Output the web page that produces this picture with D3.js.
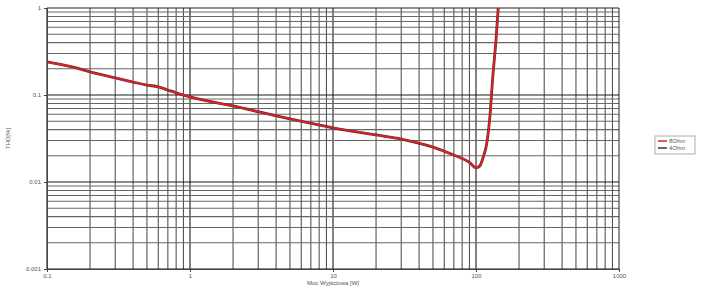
<!DOCTYPE html>
<html>
<head>
<meta charset="utf-8">
<script src="https://cdn.jsdelivr.net/npm/d3@7"></script>
<style>
  body { margin: 0; background: #fff; }
  text { font-family: "Liberation Sans", Arial, sans-serif; fill: #555; }
</style>
</head>
<body>
<div id="chart"></div>
<script>
// values
const power8 = [0.1, 0.15, 0.2, 0.3, 0.4, 0.5, 0.6, 0.7, 0.8, 1, 2, 5, 10, 20, 30, 50, 70, 90, 100, 106, 112, 119, 125, 131, 138, 143];
const thd8 = [0.24, 0.21, 0.184, 0.157, 0.141, 0.13, 0.124, 0.114, 0.106, 0.095, 0.0748, 0.053, 0.042, 0.0347, 0.0312, 0.0252, 0.0204, 0.0168, 0.0146, 0.0152, 0.019, 0.028, 0.056, 0.161, 0.43, 1.0];
const seriesNames = ["8Ohm", "4Ohm"];
const xTicks = [0.1, 1, 10, 100, 1000];
const yTicks = [1, 0.1, 0.01, 0.001];
const xTickLabels = ["0.1", "1", "10", "100", "1000"];
const yTickLabels = ["1", "0.1", "0.01", "0.001"];

const width = 705, height = 290;
const margin = {top: 8, right: 86, bottom: 21, left: 47};

const x = d3.scaleLog()
    .domain([0.1, 1000])
    .range([margin.left, width - margin.right]);
const y = d3.scaleLog()
    .domain([0.001, 1])
    .range([height - margin.bottom, margin.top]);

const svg = d3.select("#chart").append("svg")
    .attr("width", width)
    .attr("height", height)
    .attr("viewBox", [0, 0, width, height]);

// minor + major grid lines, one per 1..9 step of each decade
const minorX = [], minorY = [];
for (let e = -1; e < 3; e++) for (let m = 1; m < 10; m++) minorX.push(m * Math.pow(10, e));
for (let e = -3; e < 0; e++) for (let m = 1; m < 10; m++) minorY.push(m * Math.pow(10, e));

const grid = svg.append("g");
grid.selectAll(".vx")
    .data(minorX)
    .join("line")
      .attr("x1", d => x(d)).attr("x2", d => x(d))
      .attr("y1", y(1)).attr("y2", y(0.001))
      .attr("stroke", (d, i) => i % 9 == 0 ? "#1a1a1a" : "#555")
      .attr("stroke-width", 1.1);
grid.selectAll(".hy")
    .data(minorY)
    .join("line")
      .attr("x1", x(0.1)).attr("x2", x(1000))
      .attr("y1", d => y(d)).attr("y2", d => y(d))
      .attr("stroke", (d, i) => i % 9 == 0 ? "#1a1a1a" : "#666")
      .attr("stroke-width", 1.1);
// frame edges
grid.append("line")
    .attr("x1", x(1000)).attr("x2", x(1000))
    .attr("y1", y(1)).attr("y2", y(0.001))
    .attr("stroke", "#222");
grid.append("line")
    .attr("x1", x(0.1)).attr("x2", x(1000))
    .attr("y1", y(1)).attr("y2", y(1))
    .attr("stroke", "#222");

// axes
svg.append("g")
    .attr("transform", `translate(0,${y(0.001)})`)
    .call(d3.axisBottom(x).tickValues(xTicks).tickFormat((d, i) => xTickLabels[i]).tickSize(3))
    .call(g => g.select(".domain").attr("stroke", "#444"))
    .call(g => g.selectAll(".tick line").attr("stroke", "#444"))
    .call(g => g.selectAll(".tick text").attr("font-size", 6).attr("dy", "0.5em"));

svg.append("g")
    .attr("transform", `translate(${x(0.1)},0)`)
    .call(d3.axisLeft(y).tickValues(yTicks).tickFormat((d, i) => yTickLabels[i]).tickSize(3))
    .call(g => g.select(".domain").attr("stroke", "#444"))
    .call(g => g.selectAll(".tick line").attr("stroke", "#444"))
    .call(g => g.selectAll(".tick text").attr("font-size", 6).attr("x", -6));

svg.append("text")
    .attr("x", (x(0.1) + x(1000)) / 2)
    .attr("y", height - 5)
    .attr("text-anchor", "middle")
    .attr("font-size", 6)
    .text("Moc Wyjściowa [W]");

svg.append("text")
    .attr("transform", `translate(10,${(y(1) + y(0.001)) / 2}) rotate(-90)`)
    .attr("text-anchor", "middle")
    .attr("font-size", 6)
    .text("THD[%]");

// curve: 4Ohm dark line sits under the 8Ohm red one
svg.append("clipPath").attr("id", "clip")
  .append("rect")
    .attr("x", x(0.1)).attr("y", y(1))
    .attr("width", x(1000) - x(0.1)).attr("height", y(0.001) - y(1));

const line = d3.line()
    .x((d, i) => x(power8[i]))
    .y(d => y(d))
    .curve(d3.curveMonotoneX);

const curves = svg.append("g").attr("clip-path", "url(#clip)");
curves.append("path")
    .datum(thd8)
    .attr("fill", "none")
    .attr("stroke", "#6a2a2a")
    .attr("stroke-width", 2.8)
    .attr("d", line);
curves.append("path")
    .datum(thd8)
    .attr("fill", "none")
    .attr("stroke", "#e0202a")
    .attr("stroke-width", 1.7)
    .attr("d", line);

// legend
const legend = svg.append("g").attr("transform", "translate(655,136)");
legend.append("rect")
    .attr("width", 40).attr("height", 18)
    .attr("fill", "#fff")
    .attr("stroke", "#999")
    .attr("stroke-width", 0.8);
legend.selectAll("g")
    .data(seriesNames)
    .join("g")
      .attr("transform", (d, i) => `translate(3,${5 + i * 7})`)
      .call(g => g.append("line")
          .attr("x1", 0).attr("x2", 9)
          .attr("stroke", (d, i) => i == 0 ? "#e0202a" : "#333")
          .attr("stroke-width", 1.5))
      .call(g => g.append("text")
          .attr("x", 11).attr("dy", "0.35em")
          .attr("font-size", 6)
          .text(d => d));
</script>
</body>
</html>
